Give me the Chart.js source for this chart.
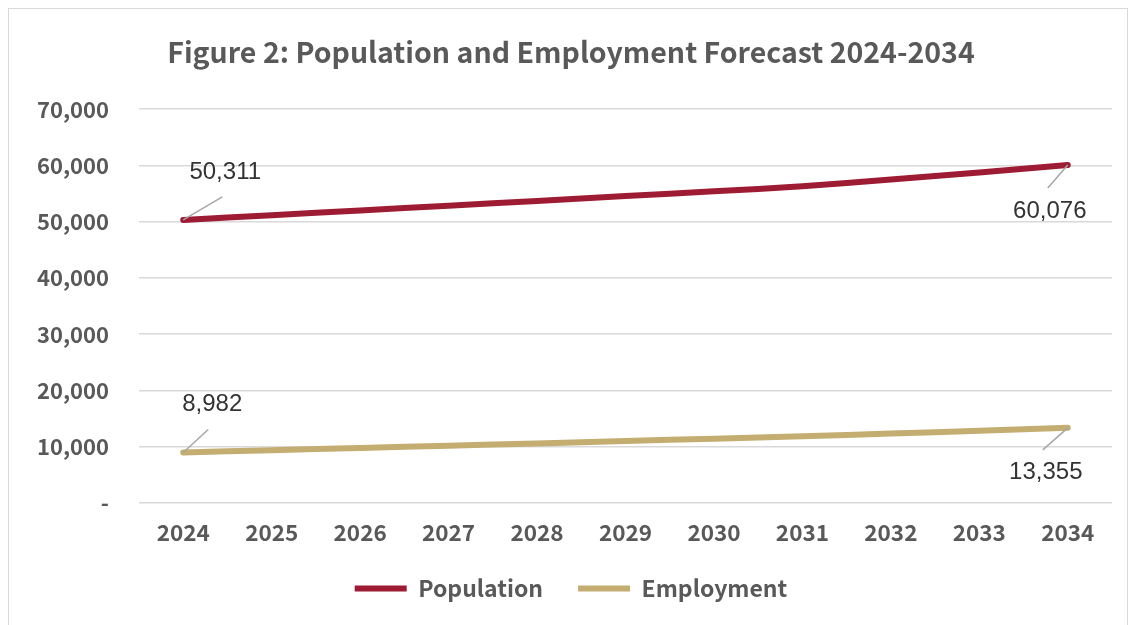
<!DOCTYPE html>
<html>
<head>
<meta charset="utf-8">
<script src="https://cdn.jsdelivr.net/npm/chart.js@4.4.1/dist/chart.umd.min.js"></script>
<style>
  html, body { margin: 0; padding: 0; background: #fff; }
  #wrap { position: relative; width: 1135px; height: 625px; }
  #frame { position: absolute; left: 8px; top: 8px; width: 1120px; height: 620px; border: 1px solid #d9d9d9; box-sizing: border-box; }
  canvas { position: absolute; left: 0; top: 0; }
</style>
</head>
<body>
<div id="wrap">
  <div id="frame"></div>
  <canvas id="chart1" width="1135" height="625"></canvas>
</div>
<script>
var years = ["2024", "2025", "2026", "2027", "2028", "2029", "2030", "2031", "2032", "2033", "2034"];
var population = [50311, 51150, 52000, 52850, 53700, 54550, 55400, 56300, 57500, 58750, 60076];
var employment = [8982, 9380, 9780, 10180, 10590, 11010, 11440, 11880, 12340, 12830, 13355];
var yTicks = [0, 10000, 20000, 30000, 40000, 50000, 60000, 70000];

var fuente = "'Noto Sans CJK JP', 'Noto Sans', sans-serif";
var gris = "#595959";

function fmt(v) {
  if (v == 0) return "-";
  return v.toLocaleString("en-US");
}

// etiquetas de datos con linea guia (solo primer y ultimo punto)
var etiquetas = {
  id: "etiquetas",
  afterDatasetsDraw: function(chart) {
    var ctx = chart.ctx;
    var cfg = [
      { ds: 0, i: 0, lx: 39, ly: -23, tx: 42, ty: -48 },
      { ds: 0, i: 10, lx: -20, ly: 23, tx: -18, ty: 46 },
      { ds: 1, i: 0, lx: 25, ly: -23, tx: 29, ty: -48 },
      { ds: 1, i: 10, lx: -25, ly: 22, tx: -22, ty: 45 }
    ];
    ctx.save();
    cfg.forEach(function(c) {
      var pt = chart.getDatasetMeta(c.ds).data[c.i];
      var val = chart.data.datasets[c.ds].data[c.i];
      ctx.strokeStyle = "#a6a6a6";
      ctx.lineWidth = 1.5;
      ctx.beginPath();
      ctx.moveTo(pt.x, pt.y);
      ctx.lineTo(pt.x + c.lx, pt.y + c.ly);
      ctx.stroke();
      ctx.fillStyle = "#333333";
      ctx.font = "24px 'Liberation Sans', Arial, sans-serif";
      ctx.textAlign = "center";
      ctx.textBaseline = "middle";
      ctx.fillText(fmt(val), pt.x + c.tx, pt.y + c.ty);
    });
    ctx.restore();
  }
};

new Chart(document.getElementById("chart1"), {
  type: "line",
  data: {
    labels: years,
    datasets: [{
      label: "Population",
      data: population,
      borderColor: "#9e1b34",
      backgroundColor: "#9e1b34",
      borderWidth: 6,
      borderCapStyle: "round",
      pointRadius: 0,
      tension: 0.3
    }, {
      label: "Employment",
      data: employment,
      borderColor: "#c4ad71",
      backgroundColor: "#c4ad71",
      borderWidth: 6,
      borderCapStyle: "round",
      pointRadius: 0,
      tension: 0.3
    }]
  },
  options: {
    responsive: false,
    animation: false,
    layout: { padding: { left: 30, right: 23, top: 0, bottom: 15 } },
    plugins: {
      title: {
        display: true,
        text: "Figure 2: Population and Employment Forecast 2024-2034",
        color: gris,
        font: { family: fuente, size: 28.5, weight: "bold" },
        padding: { top: 35, bottom: 40 }
      },
      legend: {
        position: "bottom",
        labels: {
          color: gris,
          font: { family: fuente, size: 23, weight: "bold" },
          usePointStyle: true,
          pointStyle: "line",
          pointStyleWidth: 52,
          boxHeight: 6,
          padding: 35
        }
      },
      tooltip: { enabled: false }
    },
    scales: {
      x: {
        offset: true,
        grid: { display: false, drawTicks: false },
        border: { display: false },
        ticks: { color: gris, font: { family: fuente, size: 22.5, weight: "bold" }, padding: 16 },
        afterFit: function(s) { s.height = 39; }
      },
      y: {
        min: 0,
        max: 70000,
        afterBuildTicks: function(s) { s.ticks = yTicks.map(function(v) { return { value: v }; }); },
        grid: { color: "#d9d9d9", lineWidth: 1.5, drawTicks: false },
        border: { display: false },
        ticks: {
          color: gris,
          font: { family: fuente, size: 22, weight: "bold" },
          padding: 30,
          callback: function(v) { return fmt(v); }
        },
        afterFit: function(s) { s.width = 109; }
      }
    }
  },
  plugins: [etiquetas]
});
</script>
</body>
</html>
